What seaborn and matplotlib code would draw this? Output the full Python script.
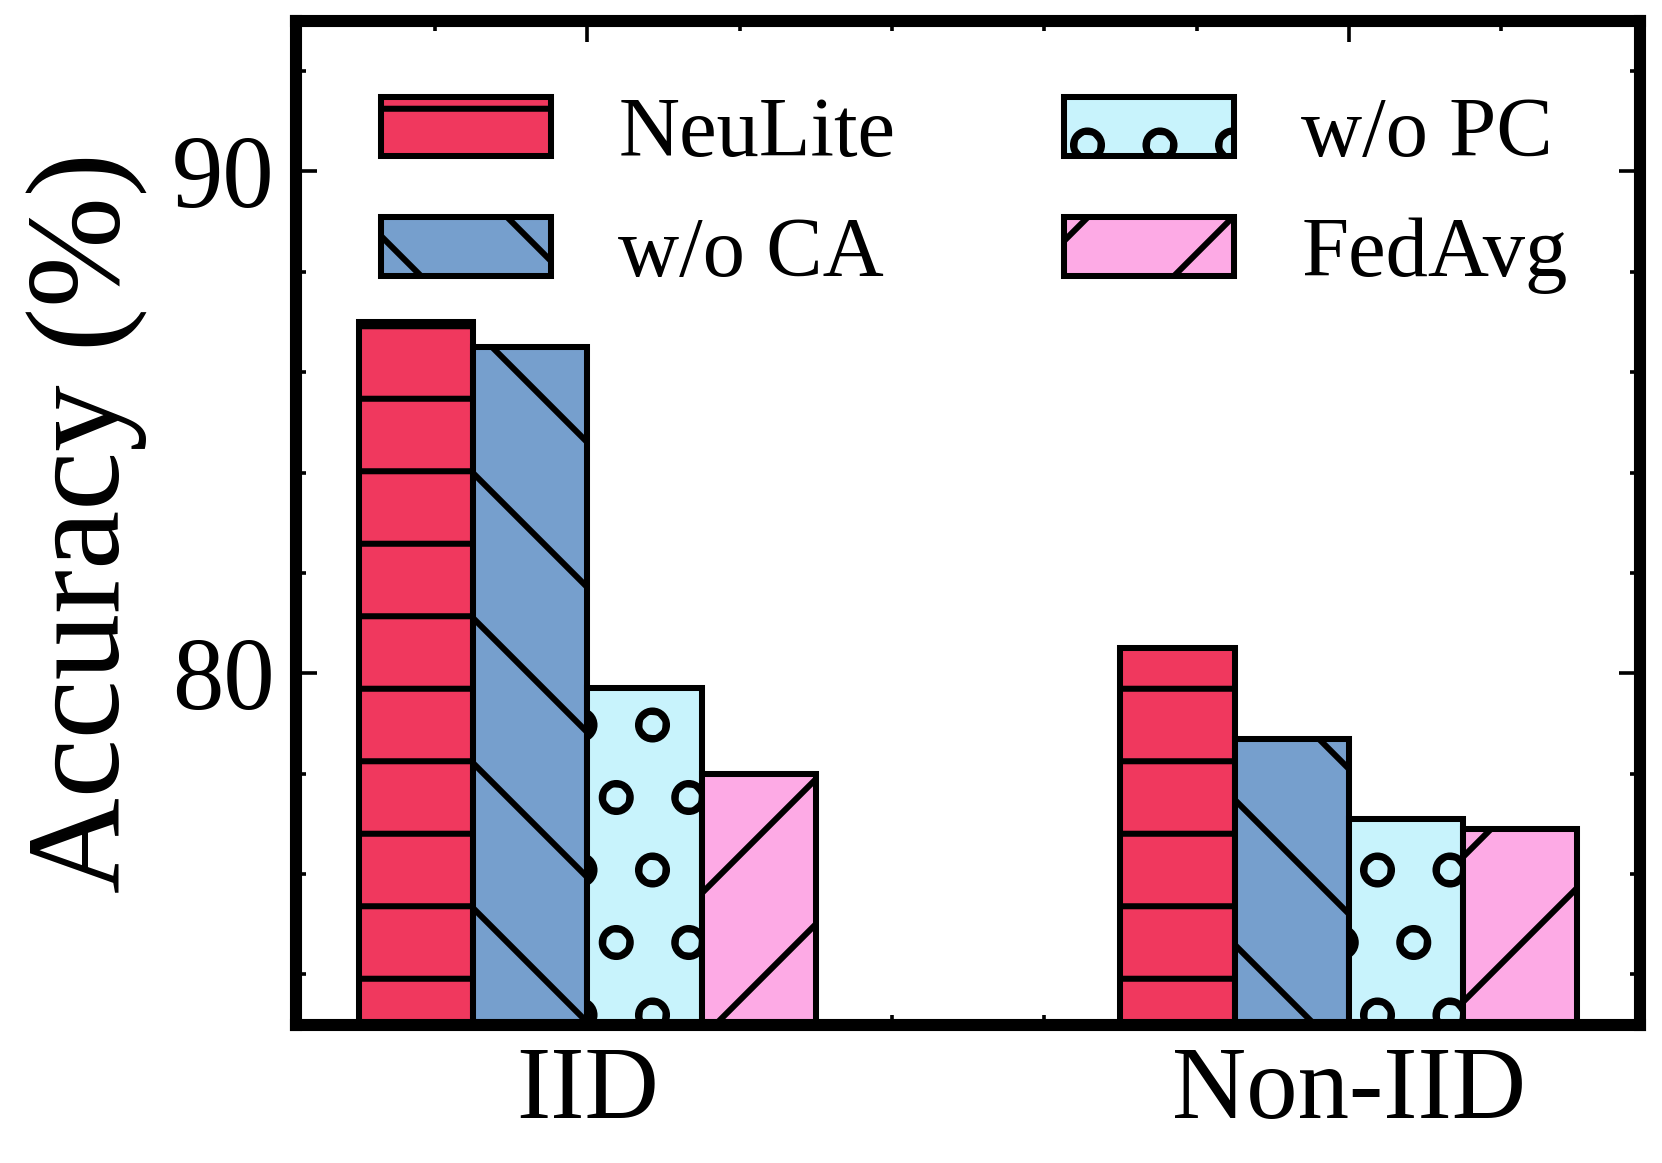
import pandas as pd
import matplotlib.pyplot as plt
import seaborn as sns
from matplotlib.ticker import MultipleLocator

# data
settings = ["IID", "Non-IID"]
methods = ["NeuLite", "w/o CA", "w/o PC", "FedAvg"]
iid_acc = [87.0, 86.5, 79.7, 78.0]
noniid_acc = [80.5, 78.7, 77.1, 76.9]

colors = ["#F0385E", "#769FCD", "#C8F3FC", "#FDAAE5"]
hatches = ["-", "\\", "o", "/"]

df = pd.DataFrame({
    "setting": [s for s in settings for _ in methods],
    "method": methods * 2,
    "acc": iid_acc + noniid_acc,
})

DPI = 435
sns.set_style("ticks")
plt.rcParams["font.family"] = ["Liberation Serif", "DejaVu Serif"]
plt.rcParams["hatch.linewidth"] = 1.0
for key in ["text.color", "axes.labelcolor", "xtick.color", "ytick.color", "axes.edgecolor"]:
    plt.rcParams[key] = "black"

fig = plt.figure(figsize=(1662 / DPI, 1163 / DPI), dpi=DPI)
ax = fig.add_axes([0.178, 0.119, 0.809, 0.863])

sns.barplot(data=df, x="setting", y="acc", hue="method", hue_order=methods,
            palette=colors, width=0.6, saturation=1, errorbar=None,
            edgecolor="black", linewidth=1.0, legend=False, ax=ax)

# hatch each method
for cont, h in zip(ax.containers, hatches):
    for bar in cont:
        bar.set_hatch(h)

ax.legend(ax.containers, methods, ncol=2, frameon=False, loc="upper left",
          bbox_to_anchor=(0.007, 1.0),
          fontsize=14, handlelength=2.0, handleheight=0.7, handletextpad=0.8,
          columnspacing=2.0, labelspacing=0.5)

ax.set_xlim(-0.383, 1.383)
ax.set_ylim(73, 93)
ax.yaxis.set_major_locator(MultipleLocator(10))
ax.yaxis.set_minor_locator(MultipleLocator(2))
ax.xaxis.set_minor_locator(MultipleLocator(0.2))
ax.tick_params(which="both", direction="in", top=True, right=True, width=0.6)
ax.tick_params(which="major", length=3.5, labelsize=17)
ax.tick_params(which="minor", length=1.6)
ax.set_axisbelow(True)

for sp in ax.spines.values():
    sp.set_linewidth(2.0)

ax.set_xlabel("")
ax.set_ylabel("Accuracy (%)", fontsize=22)

fig.savefig("out.png", dpi=DPI)
